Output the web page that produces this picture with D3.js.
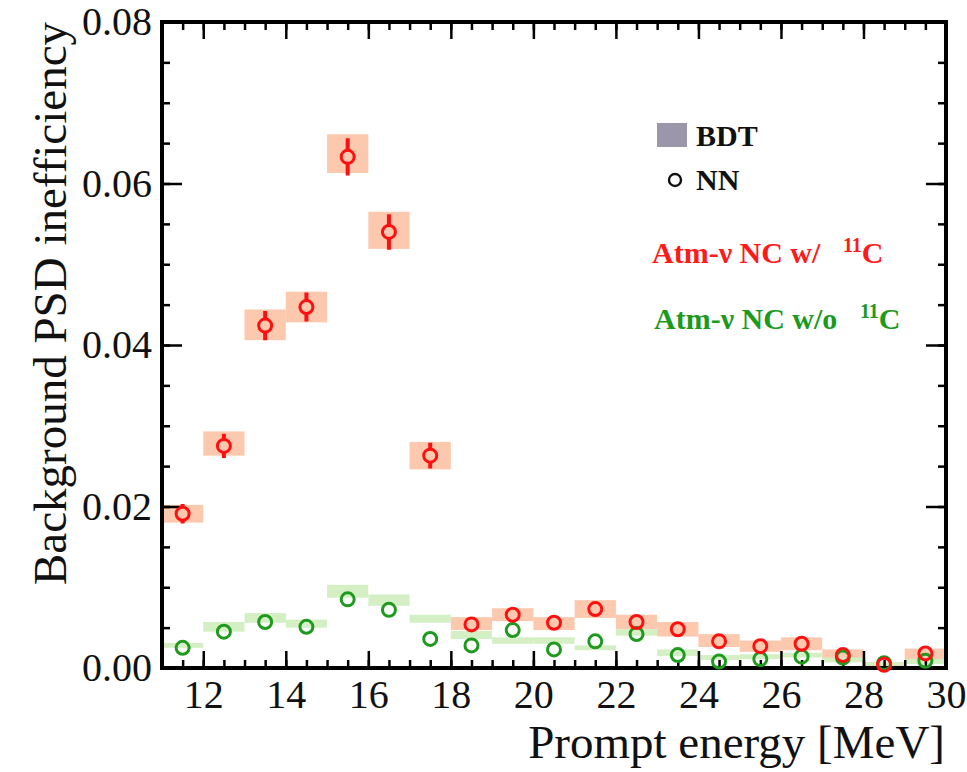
<!DOCTYPE html>
<html>
<head>
<meta charset="utf-8">
<script src="https://cdn.jsdelivr.net/npm/d3@7"></script>
<style>
  body { margin: 0; background: #fff; }
  text { font-family: "Liberation Serif", "DejaVu Serif", serif; }
</style>
</head>
<body>
<div id="canvas"></div>
<script>
const width = 967;
const height = 772;

// bin centres [MeV]
const energy = [11.5, 12.5, 13.5, 14.5, 15.5, 16.5, 17.5, 18.5, 19.5, 20.5,
                21.5, 22.5, 23.5, 24.5, 25.5, 26.5, 27.5, 28.5, 29.5];

// Atm-nu NC w/ 11C
const redNN    = [0.0191, 0.0275, 0.0424, 0.0447, 0.0633, 0.0540, 0.0263, 0.0054, 0.0066, 0.0056,
                  0.0073, 0.0057, 0.0048, 0.0033, 0.0027, 0.0030, 0.0016, 0.0004, 0.0018];
const redNNErr = [0.0012, 0.0015, 0.0018, 0.0018, 0.0023, 0.0022, 0.0016, 0.0007, 0.0008, 0.0007,
                  0.0009, 0.0008, 0.0007, 0.0005, 0.0005, 0.0006, 0.0004, 0.0002, 0.0005];
const redBDT   = [0.0191, 0.0278, 0.0425, 0.0447, 0.0637, 0.0542, 0.0263, 0.0055, 0.0066, 0.0055,
                  0.0073, 0.0057, 0.0048, 0.0034, 0.0027, 0.0030, 0.0017, 0.0004, 0.0017];
const redBDTErr = [0.0011, 0.0015, 0.0019, 0.0019, 0.0024, 0.0023, 0.0017, 0.0008, 0.0008, 0.0008,
                   0.0011, 0.0009, 0.0009, 0.0008, 0.0007, 0.0008, 0.0006, 0.0003, 0.0007];

// Atm-nu NC w/o 11C
const greenNN    = [0.0025, 0.0045, 0.0057, 0.0051, 0.0085, 0.0072, 0.0036, 0.0028, 0.0047, 0.0023,
                    0.0033, 0.0042, 0.0016, 0.0008, 0.0011, 0.0014, 0.0013, 0.0006, 0.0009];
const greenBDT   = [0.0028, 0.0051, 0.0062, 0.0055, 0.0095, 0.0084, 0.0061, 0.0041, 0.0034, 0.0034,
                    0.0025, 0.0044, 0.0019, 0.0013, 0.0014, 0.0016, 0.0010, 0.0005, 0.0008];
const greenBDTErr = [0.0003, 0.0006, 0.0006, 0.0005, 0.0008, 0.0007, 0.0005, 0.0005, 0.0004, 0.0004,
                     0.0003, 0.0004, 0.0004, 0.0003, 0.0003, 0.0003, 0.0003, 0.0002, 0.0003];

const xMajor = [12, 14, 16, 18, 20, 22, 24, 26, 28, 30];
const yMajor = [0, 0.02, 0.04, 0.06, 0.08];

const svg = d3.select("#canvas")
    .append("svg")
    .attr("width", width)
    .attr("height", height);

const x = d3.scaleLinear().domain([11, 30]).range([162, 946]);
const y = d3.scaleLinear().domain([0, 0.08]).range([668, 22]);
const binW = x(1) - x(0);

const red = "#ff1010";
const green = "#1f9a1f";

// BDT boxes
svg.selectAll(".redbox")
    .data(energy)
    .enter().append("rect")
    .attr("x", d => x(d) - binW / 2)
    .attr("width", binW)
    .attr("y", (d, i) => y(redBDT[i] + redBDTErr[i]))
    .attr("height", (d, i) => y(redBDT[i] - redBDTErr[i]) - y(redBDT[i] + redBDTErr[i]))
    .attr("fill", "#fdc9ae");

svg.selectAll(".greenbox")
    .data(energy)
    .enter().append("rect")
    .attr("x", d => x(d) - binW / 2)
    .attr("width", binW)
    .attr("y", (d, i) => y(greenBDT[i] + greenBDTErr[i]))
    .attr("height", (d, i) => y(greenBDT[i] - greenBDTErr[i]) - y(greenBDT[i] + greenBDTErr[i]))
    .attr("fill", "#d3efc3");

// axes (ticks pointing inward, like ROOT)
function styleAxis(g) {
    g.select(".domain").remove();
    g.selectAll(".tick line").attr("stroke", "#000").attr("stroke-width", 2.5);
    g.selectAll(".tick text")
        .attr("fill", "#111")
        .style("font-size", "40px")
        .style("font-family", "'Liberation Serif', serif");
}

const xMinor = d3.range(11.5, 30, 0.5);
const yMinor = d3.range(0, 0.0801, 0.005);

svg.append("g").attr("transform", "translate(0,668)")
    .call(d3.axisBottom(x).tickValues(xMinor).tickSize(-8).tickFormat(""))
    .call(styleAxis);
svg.append("g").attr("transform", "translate(0,668)")
    .call(d3.axisBottom(x).tickValues(xMajor).tickSize(-17).tickPadding(12).tickFormat(d3.format("d")))
    .call(styleAxis);
svg.append("g").attr("transform", "translate(0,22)")
    .call(d3.axisTop(x).tickValues(xMinor).tickSize(-8).tickFormat(""))
    .call(styleAxis);
svg.append("g").attr("transform", "translate(0,22)")
    .call(d3.axisTop(x).tickValues(xMajor).tickSize(-17).tickFormat(""))
    .call(styleAxis);

svg.append("g").attr("transform", "translate(162,0)")
    .call(d3.axisLeft(y).tickValues(yMinor).tickSize(-8).tickFormat(""))
    .call(styleAxis);
svg.append("g").attr("transform", "translate(162,0)")
    .call(d3.axisLeft(y).tickValues(yMajor).tickSize(-20).tickPadding(10).tickFormat(d3.format(".2f")))
    .call(styleAxis);
svg.append("g").attr("transform", "translate(946,0)")
    .call(d3.axisRight(y).tickValues(yMinor).tickSize(-8).tickFormat(""))
    .call(styleAxis);
svg.append("g").attr("transform", "translate(946,0)")
    .call(d3.axisRight(y).tickValues(yMajor).tickSize(-20).tickFormat(""))
    .call(styleAxis);

// frame
svg.append("rect")
    .attr("x", 162)
    .attr("y", 22)
    .attr("width", 946 - 162)
    .attr("height", 668 - 22)
    .attr("fill", "none")
    .attr("stroke", "#000")
    .attr("stroke-width", 4);

// NN markers
const r = 6.5;

svg.selectAll(".rederr")
    .data(energy)
    .enter().append("path")
    .attr("d", (d, i) => {
        const cx = x(d), cy = y(redNN[i]);
        const top = y(redNN[i] + redNNErr[i]), bot = y(redNN[i] - redNNErr[i]);
        let p = "";
        if (cy - r > top) p += `M${cx},${top}L${cx},${cy - r}`;
        if (bot > cy + r) p += `M${cx},${cy + r}L${cx},${bot}`;
        return p || null;
    })
    .attr("stroke", red)
    .attr("stroke-width", 4)
    .attr("fill", "none");

svg.selectAll(".greenpt")
    .data(energy)
    .enter().append("circle")
    .attr("cx", d => x(d))
    .attr("cy", (d, i) => y(greenNN[i]))
    .attr("r", r)
    .attr("fill", "none")
    .attr("stroke", green)
    .attr("stroke-width", 3);

svg.selectAll(".redpt")
    .data(energy)
    .enter().append("circle")
    .attr("cx", d => x(d))
    .attr("cy", (d, i) => y(redNN[i]))
    .attr("r", r)
    .attr("fill", "none")
    .attr("stroke", red)
    .attr("stroke-width", 3);

// axis titles
svg.append("text")
    .attr("x", 945)
    .attr("y", 758)
    .attr("text-anchor", "end")
    .style("font-size", "47px")
    .attr("fill", "#111")
    .text("Prompt energy [MeV]");

svg.append("text")
    .attr("transform", "translate(66,22)rotate(-90)")
    .attr("text-anchor", "end")
    .style("font-size", "47px")
    .attr("fill", "#111")
    .text("Background PSD inefficiency");

// legend
svg.append("rect")
    .attr("x", 657)
    .attr("y", 123)
    .attr("width", 30)
    .attr("height", 24)
    .attr("fill", "#9c96aa");

svg.append("text")
    .attr("x", 696)
    .attr("y", 146)
    .style("font-size", "30px")
    .style("font-weight", "bold")
    .attr("fill", "#111")
    .text("BDT");

svg.append("circle")
    .attr("cx", 675)
    .attr("cy", 180)
    .attr("r", 6)
    .attr("fill", "none")
    .attr("stroke", "#111")
    .attr("stroke-width", 2.4);

svg.append("text")
    .attr("x", 696)
    .attr("y", 190)
    .style("font-size", "30px")
    .style("font-weight", "bold")
    .attr("fill", "#111")
    .text("NN");

const redLabel = svg.append("text")
    .attr("x", 652)
    .attr("y", 263)
    .style("font-size", "30px")
    .style("font-weight", "bold")
    .attr("fill", "#ff1a1a");
redLabel.append("tspan").text("Atm-ν NC w/\u00a0\u00a0\u00a0");
redLabel.append("tspan").attr("dy", -11).style("font-size", "20px").text("11");
redLabel.append("tspan").attr("dy", 11).text("C");

const greenLabel = svg.append("text")
    .attr("x", 654)
    .attr("y", 329)
    .style("font-size", "30px")
    .style("font-weight", "bold")
    .attr("fill", "#1c9a1c");
greenLabel.append("tspan").text("Atm-ν NC w/o\u00a0\u00a0\u00a0");
greenLabel.append("tspan").attr("dy", -11).style("font-size", "20px").text("11");
greenLabel.append("tspan").attr("dy", 11).text("C");
</script>
</body>
</html>
